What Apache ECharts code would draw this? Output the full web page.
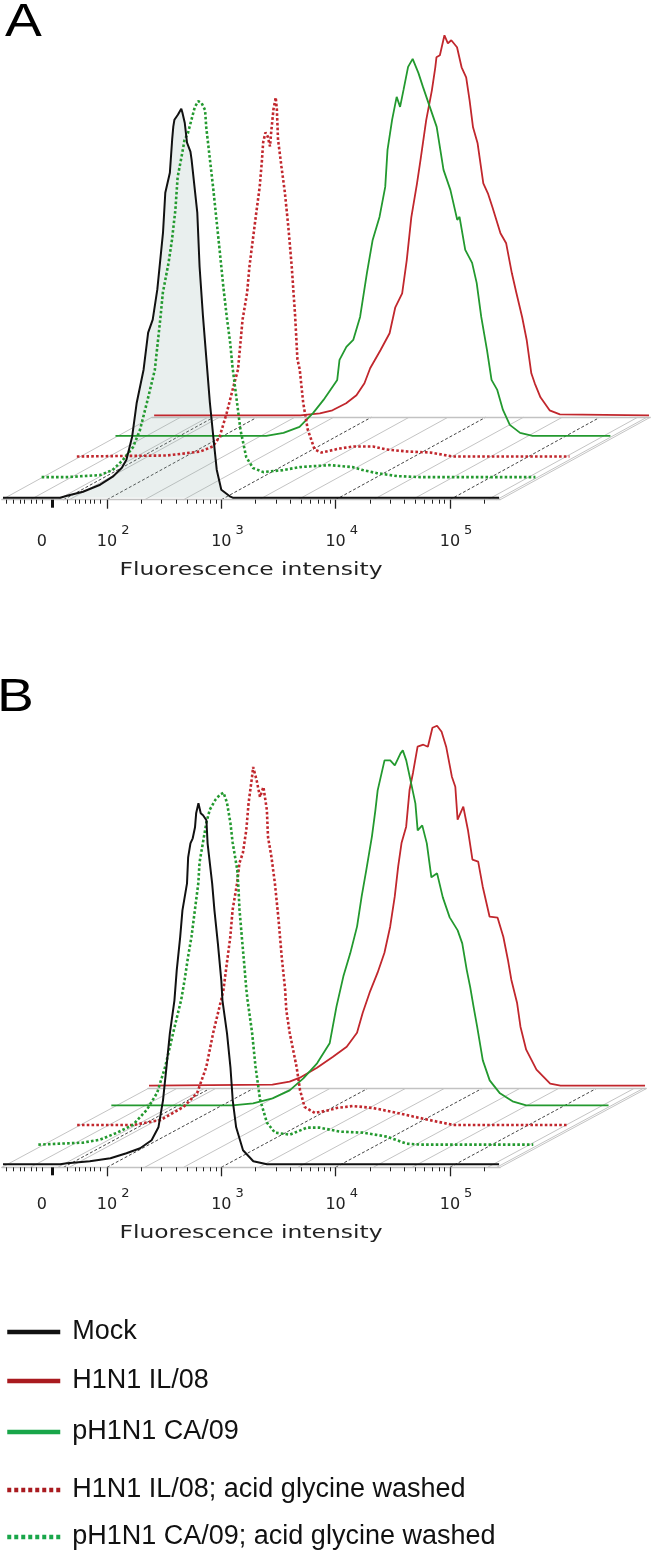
<!DOCTYPE html>
<html>
<head>
<meta charset="utf-8">
<script src="https://cdn.jsdelivr.net/npm/echarts@6/dist/echarts.min.js"></script>
<style>
html, body { margin: 0; padding: 0; background: #fff; }
#chart { width: 652px; height: 1553px; }
</style>
</head>
<body>
<div id="chart"></div>
<script>
// histogram data: [log10 fluorescence, events]
var mockA = [[1.09,0],[1.59,0],[1.65,2],[1.79,6],[1.94,13],[2.05,21],[2.13,30],[2.17,38],[2.22,61],[2.26,95],[2.32,128],[2.36,165],[2.40,178],[2.44,208],[2.49,265],[2.51,305],[2.55,325],[2.57,358],[2.58,371],[2.59,378],[2.62,383],[2.65,389],[2.66,385],[2.68,375],[2.70,355],[2.73,346],[2.74,338],[2.79,285],[2.81,231],[2.84,181],[2.87,138],[2.90,95],[2.93,61],[2.96,28],[3.00,8],[3.08,1],[3.10,0],[5.43,0]];
var caAcidA = [[1.10,0],[1.32,0],[1.61,2],[1.72,7],[1.81,17],[1.90,30],[1.96,47],[2.02,74],[2.09,107],[2.14,160],[2.16,184],[2.21,214],[2.24,237],[2.27,267],[2.29,300],[2.33,324],[2.35,337],[2.38,344],[2.41,357],[2.44,370],[2.47,376],[2.50,374],[2.53,367],[2.54,350],[2.57,320],[2.60,290],[2.63,257],[2.66,224],[2.69,190],[2.72,160],[2.75,134],[2.77,110],[2.81,74],[2.84,47],[2.89,20],[2.95,9],[3.04,5],[3.21,7],[3.36,10],[3.62,12],[3.82,10],[3.91,7],[4.03,4],[4.21,1],[4.41,0],[5.42,0]];
var ilAcidA = [[1.08,0],[1.87,1],[2.16,5],[2.27,10],[2.33,20],[2.39,43],[2.45,70],[2.49,87],[2.53,137],[2.57,164],[2.59,190],[2.62,217],[2.65,244],[2.68,270],[2.70,297],[2.71,314],[2.73,324],[2.75,320],[2.77,310],[2.78,324],[2.80,347],[2.82,359],[2.83,347],[2.84,317],[2.87,290],[2.90,264],[2.93,230],[2.96,190],[2.99,140],[3.01,97],[3.03,87],[3.06,54],[3.10,27],[3.16,7],[3.22,4],[3.38,8],[3.50,10],[3.67,10],[3.79,7],[3.97,5],[4.17,4],[4.37,0],[5.39,0]];
var caA = [[1.09,0],[2.41,0],[2.56,3],[2.70,9],[2.82,23],[2.91,36],[2.97,46],[3.03,56],[3.05,76],[3.11,89],[3.17,96],[3.23,119],[3.29,163],[3.34,196],[3.40,219],[3.45,249],[3.47,286],[3.51,316],[3.55,339],[3.58,329],[3.61,346],[3.65,369],[3.69,377],[3.74,363],[3.78,349],[3.84,329],[3.90,309],[3.96,266],[4.02,246],[4.08,216],[4.10,219],[4.15,186],[4.21,173],[4.25,153],[4.29,119],[4.34,86],[4.38,56],[4.43,46],[4.48,26],[4.54,11],[4.63,3],[4.74,0],[5.42,0]];
var ilA = [[1.10,0],[2.38,0],[2.55,2],[2.66,5],[2.78,12],[2.87,20],[2.94,32],[2.99,47],[3.08,65],[3.16,82],[3.21,108],[3.27,122],[3.31,155],[3.35,198],[3.40,232],[3.43,255],[3.48,295],[3.53,325],[3.56,348],[3.57,358],[3.60,360],[3.64,380],[3.67,372],[3.70,375],[3.75,368],[3.79,348],[3.83,338],[3.86,315],[3.89,288],[3.93,272],[3.98,232],[4.02,222],[4.06,208],[4.13,182],[4.18,172],[4.23,142],[4.27,122],[4.32,98],[4.36,75],[4.40,42],[4.43,32],[4.48,18],[4.56,5],[4.65,1],[5.43,0]];

var mockB = [[1.09,0],[1.59,0],[1.65,1],[1.85,3],[2.03,6],[2.17,11],[2.29,16],[2.39,24],[2.45,37],[2.49,64],[2.52,97],[2.55,131],[2.59,164],[2.61,194],[2.64,227],[2.66,254],[2.70,281],[2.71,307],[2.73,321],[2.75,326],[2.77,337],[2.78,351],[2.80,361],[2.82,351],[2.84,349],[2.87,344],[2.88,321],[2.92,281],[2.94,254],[2.97,221],[3.00,184],[3.01,164],[3.05,131],[3.08,97],[3.10,64],[3.13,37],[3.19,14],[3.28,3],[3.40,0],[5.43,0]];
var caAcidB = [[1.08,0],[1.47,2],[1.62,5],[1.77,12],[1.91,20],[2.03,35],[2.12,52],[2.19,78],[2.26,112],[2.33,145],[2.36,165],[2.39,188],[2.42,208],[2.45,235],[2.48,262],[2.49,282],[2.52,302],[2.55,322],[2.58,335],[2.63,345],[2.67,350],[2.70,352],[2.73,342],[2.76,322],[2.78,302],[2.82,275],[2.83,258],[2.84,235],[2.86,208],[2.88,182],[2.90,155],[2.91,145],[2.95,112],[2.98,78],[3.02,45],[3.08,22],[3.15,12],[3.28,10],[3.43,17],[3.54,17],[3.72,13],[3.92,12],[4.13,8],[4.30,1],[4.42,0],[5.41,0]];
var ilAcidB = [[1.10,0],[1.59,0],[1.83,5],[2.03,18],[2.15,32],[2.23,58],[2.29,92],[2.36,125],[2.38,135],[2.41,162],[2.44,188],[2.46,215],[2.50,242],[2.52,262],[2.55,272],[2.58,295],[2.60,322],[2.63,348],[2.64,358],[2.67,345],[2.70,328],[2.73,338],[2.76,315],[2.77,288],[2.80,268],[2.83,242],[2.86,208],[2.89,168],[2.92,135],[2.93,115],[2.96,92],[3.02,58],[3.05,35],[3.09,18],[3.18,12],[3.31,15],[3.37,17],[3.51,19],[3.69,17],[3.90,12],[4.10,7],[4.39,0],[5.39,0]];
var caB = [[1.08,0],[2.14,0],[2.32,2],[2.49,7],[2.64,15],[2.76,27],[2.88,42],[2.99,62],[3.05,99],[3.11,129],[3.17,152],[3.23,179],[3.27,209],[3.31,235],[3.36,269],[3.39,295],[3.41,315],[3.47,345],[3.52,345],[3.56,340],[3.61,352],[3.63,355],[3.66,345],[3.69,329],[3.74,302],[3.76,275],[3.80,280],[3.84,262],[3.88,228],[3.93,232],[3.98,208],[4.04,188],[4.11,175],[4.15,162],[4.19,135],[4.22,118],[4.25,98],[4.28,79],[4.33,45],[4.39,25],[4.48,12],[4.59,4],[4.71,0],[5.43,0]];
var ilB = [[1.09,0],[2.17,1],[2.32,4],[2.41,8],[2.56,18],[2.70,29],[2.82,39],[2.91,53],[2.96,73],[3.02,93],[3.09,113],[3.15,133],[3.20,159],[3.24,189],[3.27,219],[3.30,243],[3.34,259],[3.37,296],[3.40,313],[3.44,339],[3.49,341],[3.53,339],[3.57,358],[3.61,360],[3.65,354],[3.69,339],[3.74,309],[3.77,299],[3.79,266],[3.84,279],[3.88,256],[3.92,226],[3.97,224],[4.01,199],[4.07,169],[4.14,168],[4.19,149],[4.23,126],[4.26,106],[4.31,83],[4.34,59],[4.39,36],[4.48,16],[4.60,2],[4.69,0],[5.43,0]];

// layers, front (0) to back (4)
var layerNames = ['Mock', 'pH1N1 CA/09; acid glycine washed', 'H1N1 IL/08; acid glycine washed', 'pH1N1 CA/09', 'H1N1 IL/08'];

// axis ticks and labels
var labelValues = [1.43, 2, 3, 4, 5];
var labelMain = ['0', '10', '10', '10', '10'];
var labelSup = ['', '2', '3', '4', '5'];
var majorTicks = [2, 3, 4, 5];
var zeroTick = [1.52];
var minorTicks = [1.12, 1.18, 1.24, 1.28, 1.34, 1.38, 1.43, 1.65, 1.72, 1.76, 1.81, 1.85, 1.89, 1.94];
[2, 3, 4, 5].forEach(function (n) {
    for (var k = 2; k <= 9; k++) {
        var v = n + Math.log10(k);
        if (v < 5.43) minorTicks.push(v);
    }
});
var axisName = 'Fluorescence intensity';

// layout
var RED = '#c1272d', GREEN = '#23992f';
var layerColors = ['#111', GREEN, RED, GREEN, RED];
var layerDash = ['solid', [2.6, 2.2], [2.6, 2.2], 'solid', 'solid'];
var layerWidth = [2, 2.6, 2.6, 1.8, 1.8];
var dMin = 1.08, dMax = 5.44, pxPerDec = 114.3, x2 = 107;
var yMax = 400;
var panels = [
    {label: 'A', labelY: 23, base: 497.7, dx: 37.5, dy: 20.6, yMin: -2, labelMargin: 24.6, nameY: 570.5, fill: true,
     data: [mockA, caAcidA, ilAcidA, caA, ilA]},
    {label: 'B', labelY: 698, base: 1164.3, dx: 36.5, dy: 19.65, yMin: -3, labelMargin: 19.7, nameY: 1233.5, fill: false,
     data: [mockB, caAcidB, ilAcidB, caB, ilB]}
];
var floorGray = [1.33, 1.57, 1.67, 2.33, 2.67, 3.33, 3.67, 4.33, 4.67, 5.33];
var floorBlack = [1.62, 2, 3, 4, 5];
var legendRows = [
    {name: 'Mock', y: 1332, color: '#111', dash: 'solid'},
    {name: 'H1N1 IL/08', y: 1381, color: '#a91a1f', dash: 'solid'},
    {name: 'pH1N1 CA/09', y: 1432, color: '#19a64a', dash: 'solid'},
    {name: 'H1N1 IL/08; acid glycine washed', y: 1490, color: '#a91a1f', dash: [4, 3]},
    {name: 'pH1N1 CA/09; acid glycine washed', y: 1537, color: '#19a64a', dash: [4, 3]}
];

function fmt(v) {
    var k = 0;
    for (var j = 1; j < labelValues.length; j++) {
        if (Math.abs(labelValues[j] - v) < Math.abs(labelValues[k] - v)) k = j;
    }
    if (!labelSup[k]) return '{b|' + labelMain[k] + '}';
    return '{pad| }{b|' + labelMain[k] + '}{sup|' + labelSup[k] + '}';
}
var rich = {
    b: {fontSize: 16, fontFamily: 'DejaVu Sans', color: '#222', lineHeight: 36},
    sup: {fontSize: 13, fontFamily: 'DejaVu Sans', color: '#222', lineHeight: 10, verticalAlign: 'top', padding: [0, 0, 0, 4]},
    pad: {width: 12.3, fontSize: 10}
};

var chart = echarts.init(document.getElementById('chart'));
var grids = [], xAxes = [], yAxes = [], series = [];
var axisOf = [];
var width = (dMax - dMin) * pxPerDec;
var left0 = x2 - (2 - dMin) * pxPerDec;

panels.forEach(function (p, pi) {
    axisOf[pi] = [];
    for (var i = 0; i < 5; i++) {
        var base = p.base - i * p.dy;
        var g = grids.length;
        grids.push({left: left0 + i * p.dx, width: width, top: base - yMax, height: yMax - p.yMin});
        var ax = {
            gridIndex: g, type: 'value', min: dMin, max: dMax, position: 'bottom',
            axisLine: {show: i === 0 || i === 4, onZero: false, lineStyle: {color: '#c2c2c2', width: 1.3}},
            axisTick: {show: false}, axisLabel: {show: false}, splitLine: {show: false}
        };
        if (i === 0) {
            ax.axisTick = {show: true, customValues: majorTicks, length: 9, lineStyle: {color: '#222', width: 1.3}};
            ax.axisLabel = {show: true, customValues: labelValues, margin: p.labelMargin, formatter: fmt, rich: rich};
        }
        axisOf[pi][i] = xAxes.length;
        xAxes.push(ax);
        yAxes.push({gridIndex: g, type: 'value', min: p.yMin, max: yMax, show: false});
        if (i === 0) {
            xAxes.push({gridIndex: g, type: 'value', min: dMin, max: dMax, position: 'bottom',
                axisLine: {show: false, onZero: false}, axisLabel: {show: false}, splitLine: {show: false},
                axisTick: {show: true, customValues: minorTicks, length: 4, lineStyle: {color: '#222', width: 1}}});
            xAxes.push({gridIndex: g, type: 'value', min: dMin, max: dMax, position: 'bottom',
                axisLine: {show: false, onZero: false}, axisLabel: {show: false}, splitLine: {show: false},
                axisTick: {show: true, customValues: zeroTick, length: 8, lineStyle: {color: '#111', width: 3}}});
        }
    }
    // back to front
    for (var j = 4; j >= 0; j--) {
        var s = {
            type: 'line', name: layerNames[j],
            xAxisIndex: axisOf[pi][j], yAxisIndex: axisOf[pi][j] - (j === 0 ? 0 : 2) - pi * 2,
            data: p.data[j], symbol: 'none', silent: true, clip: false,
            lineStyle: {color: layerColors[j], width: layerWidth[j], type: layerDash[j]},
            itemStyle: {color: layerColors[j]}
        };
        if (j === 0 && p.fill) s.areaStyle = {color: 'rgba(150,180,175,0.3)'};
        series.push(s);
    }
});

// map series to y axes correctly (yAxes are one per grid)
var yIdx = 0;
panels.forEach(function (p, pi) {
    for (var i = 0; i < 5; i++) {
        var xi = axisOf[pi][i];
        series.forEach(function (s) { if (s.xAxisIndex === xi) s.yAxisIndex = pi * 5 + i; });
    }
});

var legends = legendRows.map(function (r) {
    return {
        data: [r.name], left: 5, top: r.y - 13.5, padding: 0, orient: 'horizontal',
        itemWidth: 53, itemHeight: 14, selectedMode: false,
        itemStyle: {opacity: 0, borderWidth: 0},
        lineStyle: {color: r.color, width: 4.5, type: r.dash, cap: 'butt'},
        textStyle: {fontSize: 27, fontFamily: 'Liberation Sans', color: '#111', padding: [0, 0, 0, 7]}
    };
});

chart.setOption({
    animation: false,
    backgroundColor: '#fff',
    grid: grids, xAxis: xAxes, yAxis: yAxes, series: series, legend: legends
});

// floor of the stacked view, built from the axes
var gfx = [];
panels.forEach(function (p, pi) {
    var f = axisOf[pi][0], b = axisOf[pi][4];
    var fy = pi * 5, by = pi * 5 + 4;
    function seg(d, style) {
        var a = chart.convertToPixel({xAxisIndex: f, yAxisIndex: fy}, [d, p.yMin]);
        var c = chart.convertToPixel({xAxisIndex: b, yAxisIndex: by}, [d, p.yMin]);
        gfx.push({type: 'line', silent: true, z: 0, shape: {x1: a[0], y1: a[1], x2: c[0], y2: c[1]}, style: style});
    }
    var gray = {stroke: '#c4c4c4', lineWidth: 1};
    var dark = {stroke: '#444', lineWidth: 1, lineDash: [3, 2]};
    seg(dMin, gray);
    seg(dMax, gray);
    seg(dMax - 0.03, gray);
    floorGray.forEach(function (d) { seg(d, gray); });
    floorBlack.forEach(function (d) { seg(d, dark); });
    var mid = chart.convertToPixel({xAxisIndex: f, yAxisIndex: fy}, [(dMin + dMax) / 2, 0]);
    gfx.push({type: 'text', silent: true, z: 10, x: mid[0], y: p.nameY, scaleX: 1.3,
        style: {text: axisName, x: 0, y: 0, align: 'center', verticalAlign: 'middle',
            fontSize: 18, fontFamily: 'DejaVu Sans', fill: '#222'}});
    gfx.push({type: 'text', silent: true, z: 10, x: pi === 0 ? 5 : -3, y: p.labelY, scaleX: 1.2,
        style: {text: p.label, x: 0, y: 0, verticalAlign: 'middle',
            fontSize: 46, fontFamily: 'Liberation Sans', fill: '#000'}});
});
chart.setOption({graphic: {elements: gfx}});
</script>
</body>
</html>
